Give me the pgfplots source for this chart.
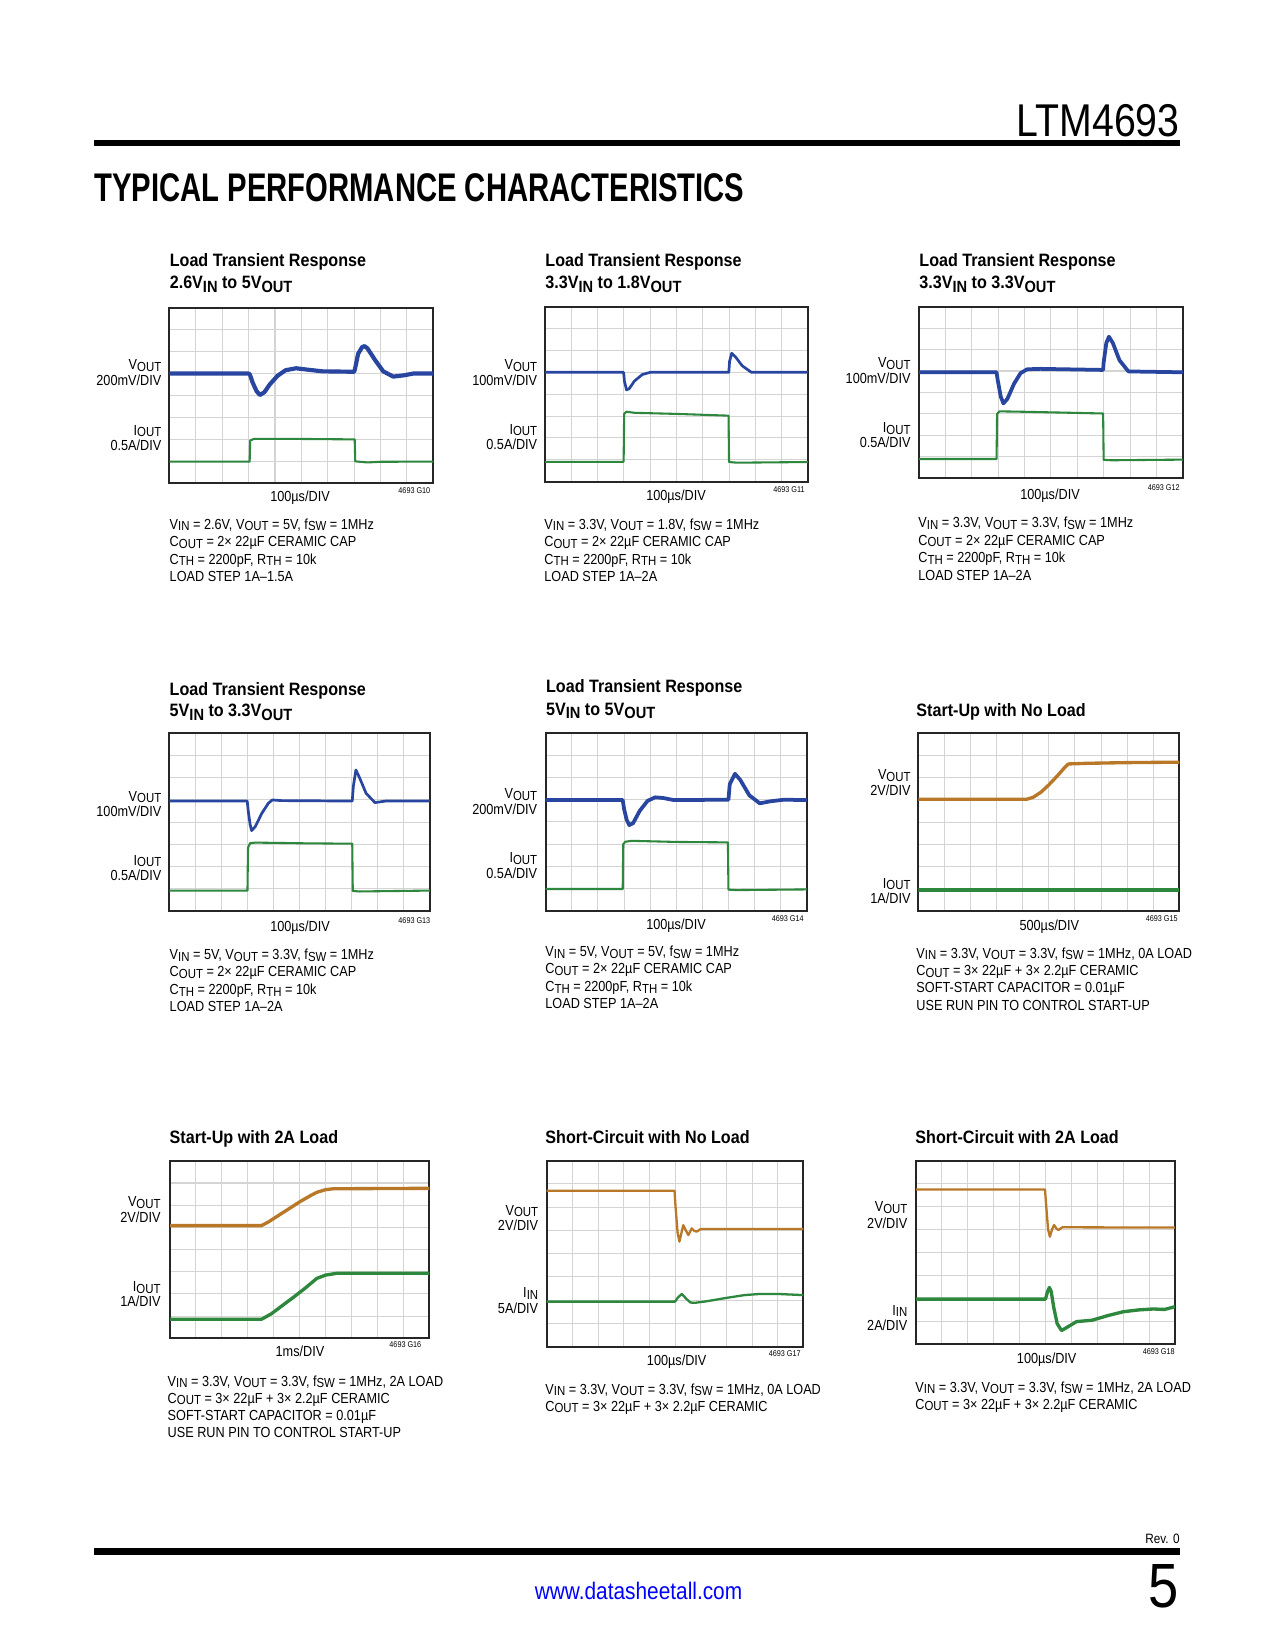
\documentclass[border=0pt]{standalone}
\usepackage{pgfplots}
\pgfplotsset{compat=1.18}
\usepackage{fontspec}
\setmainfont{Liberation Sans}[FakeStretch=0.87]
\newfontfamily\tfont{Liberation Sans}[FakeStretch=0.9]
\usepackage{graphicx}
\definecolor{vblue}{RGB}{40,70,160}
\definecolor{igreen}{RGB}{45,135,60}
\definecolor{vorange}{RGB}{185,120,40}
\newcommand\lf{\fontsize{7}{8}\selectfont}
\newcommand\sub[1]{\raisebox{-0.25ex}{\fontsize{6.3}{6}\selectfont #1}}
\newcommand\tsub[1]{\raisebox{-0.35ex}{\fontsize{7.8}{7}\selectfont #1}}
\newcommand\tf{\tfont\bfseries\fontsize{8.6}{9}\selectfont}
\newcommand\gf{\fontsize{4}{4}\selectfont}
\pgfplotsset{
 scope/.style={scale only axis, xmin=0, xmax=10, ymin=0, ymax=8,
  xtick={1,...,9}, ytick={1,...,7}, xticklabels={}, yticklabels={},
  major tick length=0pt, grid=major,
  major grid style={draw=black!17, line width=0.5pt},
  axis line style={draw=black!85, line width=0.9pt},
  anchor=south west, clip=true,
  every axis plot/.append style={line join=round}},
 vb/.style={vblue, line width=#1},
 ig/.style={igreen, line width=#1},
 vo/.style={vorange, line width=#1},
}
\begin{document}
\begin{tikzpicture}[x=0.48pt,y=-0.48pt]
\path[fill=white] (0,0) rectangle (1275,1650);
% header
\node[anchor=base east, inner sep=0] at (1180,137) {\resizebox{78.2pt}{15.4pt}{LTM4693}};
\fill (94,140) rectangle (1180,146.5);
\node[anchor=base west, inner sep=0] at (94,202) {\resizebox{312pt}{13.4pt}{\bfseries TYPICAL PERFORMANCE CHARACTERISTICS}};
% footer
\node[anchor=base east, inner sep=0] at (1180,1543) {\fontsize{6.5}{7}\selectfont Rev. 0};
\fill (94,1548) rectangle (1180,1555);
\node[anchor=base, inner sep=0, text=blue] at (638.5,1599) {\fontsize{11.5}{12}\selectfont www.datasheetall.com};
\node[anchor=base east, inner sep=0] at (1179,1607) {\fontsize{30}{30}\selectfont 5};

% ================= P1
\node[anchor=base west, inner sep=0] at (169.4,267) {\tf Load Transient Response};
\node[anchor=base west, inner sep=0] at (169.4,289) {\tf 2.6V\tsub{IN} to 5V\tsub{OUT}};
\begin{axis}[scope, at={(81.31pt,-231.98pt)}, width=126.7pt, height=84.3pt]
\addplot[vb=2.0pt] coordinates {(0,5.0) (3.0,5.0) (3.05,4.95) (3.15,4.6) (3.3,4.2) (3.43,4.02) (3.6,4.15) (3.8,4.5) (4.1,4.9) (4.4,5.15) (4.8,5.24) (5.2,5.18) (5.8,5.1) (7.0,5.08) (7.03,5.2) (7.15,5.9) (7.3,6.2) (7.39,6.25) (7.5,6.15) (7.8,5.6) (8.1,5.1) (8.48,4.86) (8.9,4.92) (9.24,5.0) (10,5.0)};
\addplot[ig=1.0pt] coordinates {(0,0.99) (3.04,0.99) (3.06,1.95) (3.2,2.02) (5,2.02) (7.02,2.0) (7.04,1.0) (7.5,0.95) (8,0.98) (10,0.99)};
\end{axis}
\node[anchor=base east, inner sep=0] at (161.7,370) {\lf V\sub{OUT}};
\node[anchor=base east, inner sep=0] at (161.7,385.7) {\lf 200mV/DIV};
\node[anchor=base east, inner sep=0] at (161.7,435) {\lf I\sub{OUT}};
\node[anchor=base east, inner sep=0] at (161.7,450) {\lf 0.5A/DIV};
\node[anchor=base, inner sep=0] at (300,501.7) {\lf 100µs/DIV};
\node[anchor=base east, inner sep=0] at (430.7,493.3) {\gf 4693 G10};
\node[anchor=base west, inner sep=0] at (169.3,529) {\lf V\sub{IN} = 2.6V, V\sub{OUT} = 5V, f\sub{SW} = 1MHz};
\node[anchor=base west, inner sep=0] at (169.3,546.5) {\lf C\sub{OUT} = 2× 22µF CERAMIC CAP};
\node[anchor=base west, inner sep=0] at (169.3,564) {\lf C\sub{TH} = 2200pF, R\sub{TH} = 10k};
\node[anchor=base west, inner sep=0] at (169.3,581.5) {\lf LOAD STEP 1A–1.5A};

% ================= P2
\node[anchor=base west, inner sep=0] at (545,267) {\tf Load Transient Response};
\node[anchor=base west, inner sep=0] at (545,289) {\tf 3.3V\tsub{IN} to 1.8V\tsub{OUT}};
\begin{axis}[scope, at={(261.6pt,-231.22pt)}, width=126.2pt, height=84.0pt]
\addplot[vb=1.3pt] coordinates {(0,5.0) (2.99,5.0) (3.02,4.6) (3.1,4.2) (3.2,4.25) (3.4,4.6) (3.7,4.9) (4.0,5.0) (6.99,5.0) (7.02,5.5) (7.1,5.87) (7.25,5.7) (7.5,5.3) (7.85,5.0) (10,5.0)};
\addplot[ig=1.0pt] coordinates {(0,0.91) (2.99,0.91) (3.01,3.1) (3.1,3.2) (3.4,3.15) (5,3.1) (6.98,3.02) (7.0,0.9) (7.3,0.87) (10,0.9)};
\end{axis}
\node[anchor=base east, inner sep=0] at (537.6,370) {\lf V\sub{OUT}};
\node[anchor=base east, inner sep=0] at (537.6,385.7) {\lf 100mV/DIV};
\node[anchor=base east, inner sep=0] at (537.6,434) {\lf I\sub{OUT}};
\node[anchor=base east, inner sep=0] at (537.6,449) {\lf 0.5A/DIV};
\node[anchor=base, inner sep=0] at (676,500.7) {\lf 100µs/DIV};
\node[anchor=base east, inner sep=0] at (805,492) {\gf 4693 G11};
\node[anchor=base west, inner sep=0] at (544,529) {\lf V\sub{IN} = 3.3V, V\sub{OUT} = 1.8V, f\sub{SW} = 1MHz};
\node[anchor=base west, inner sep=0] at (544,546.5) {\lf C\sub{OUT} = 2× 22µF CERAMIC CAP};
\node[anchor=base west, inner sep=0] at (544,564) {\lf C\sub{TH} = 2200pF, R\sub{TH} = 10k};
\node[anchor=base west, inner sep=0] at (544,581.5) {\lf LOAD STEP 1A–2A};

% ================= P3
\node[anchor=base west, inner sep=0] at (919,267) {\tf Load Transient Response};
\node[anchor=base west, inner sep=0] at (919,289) {\tf 3.3V\tsub{IN} to 3.3V\tsub{OUT}};
\begin{axis}[scope, at={(441.12pt,-229.58pt)}, width=126.6pt, height=82.4pt]
\addplot[vb=1.8pt] coordinates {(0,4.94) (2.94,4.94) (2.98,4.6) (3.1,3.8) (3.2,3.49) (3.35,3.7) (3.6,4.4) (3.85,4.9) (4.1,5.08) (4.6,5.1) (6.98,5.05) (7.0,5.4) (7.1,6.3) (7.2,6.6) (7.35,6.3) (7.6,5.5) (7.94,4.98) (10,4.94)};
\addplot[ig=1.0pt] coordinates {(0,0.9) (2.94,0.9) (2.96,3.0) (3.05,3.12) (4,3.1) (6.98,3.02) (7.0,0.86) (7.3,0.84) (10,0.87)};
\end{axis}
\node[anchor=base east, inner sep=0] at (911,368) {\lf V\sub{OUT}};
\node[anchor=base east, inner sep=0] at (911,383.7) {\lf 100mV/DIV};
\node[anchor=base east, inner sep=0] at (911,433) {\lf I\sub{OUT}};
\node[anchor=base east, inner sep=0] at (911,448) {\lf 0.5A/DIV};
\node[anchor=base, inner sep=0] at (1050,499.7) {\lf 100µs/DIV};
\node[anchor=base east, inner sep=0] at (1180,490) {\gf 4693 G12};
\node[anchor=base west, inner sep=0] at (918,527.5) {\lf V\sub{IN} = 3.3V, V\sub{OUT} = 3.3V, f\sub{SW} = 1MHz};
\node[anchor=base west, inner sep=0] at (918,545) {\lf C\sub{OUT} = 2× 22µF CERAMIC CAP};
\node[anchor=base west, inner sep=0] at (918,562.5) {\lf C\sub{TH} = 2200pF, R\sub{TH} = 10k};
\node[anchor=base west, inner sep=0] at (918,580) {\lf LOAD STEP 1A–2A};

% ================= P4
\node[anchor=base west, inner sep=0] at (169.3,695) {\tf Load Transient Response};
\node[anchor=base west, inner sep=0] at (169.3,716.7) {\tf 5V\tsub{IN} to 3.3V\tsub{OUT}};
\begin{axis}[scope, at={(81.26pt,-437.28pt)}, width=125.1pt, height=85.3pt]
\addplot[vb=1.3pt] coordinates {(0,4.95) (2.99,4.95) (3.03,4.5) (3.1,3.9) (3.16,3.62) (3.3,3.8) (3.55,4.4) (3.8,4.85) (3.95,5.0) (4.3,4.97) (7.02,4.95) (7.06,5.6) (7.16,6.35) (7.3,6.0) (7.55,5.3) (7.89,4.88) (8.3,4.95) (10,4.95)};
\addplot[ig=1.0pt] coordinates {(0,0.92) (3.0,0.92) (3.02,2.85) (3.1,3.05) (3.3,3.08) (5,3.05) (7.02,3.03) (7.04,0.9) (7.3,0.88) (10,0.92)};
\end{axis}
\node[anchor=base east, inner sep=0] at (161.7,801) {\lf V\sub{OUT}};
\node[anchor=base east, inner sep=0] at (161.7,816.5) {\lf 100mV/DIV};
\node[anchor=base east, inner sep=0] at (161.7,865) {\lf I\sub{OUT}};
\node[anchor=base east, inner sep=0] at (161.7,880.5) {\lf 0.5A/DIV};
\node[anchor=base, inner sep=0] at (300,931.7) {\lf 100µs/DIV};
\node[anchor=base east, inner sep=0] at (430.7,923.3) {\gf 4693 G13};
\node[anchor=base west, inner sep=0] at (169.3,959.3) {\lf V\sub{IN} = 5V, V\sub{OUT} = 3.3V, f\sub{SW} = 1MHz};
\node[anchor=base west, inner sep=0] at (169.3,976.7) {\lf C\sub{OUT} = 2× 22µF CERAMIC CAP};
\node[anchor=base west, inner sep=0] at (169.3,994.2) {\lf C\sub{TH} = 2200pF, R\sub{TH} = 10k};
\node[anchor=base west, inner sep=0] at (169.3,1011.7) {\lf LOAD STEP 1A–2A};

% ================= P5
\node[anchor=base west, inner sep=0] at (545.7,692.7) {\tf Load Transient Response};
\node[anchor=base west, inner sep=0] at (545.7,715) {\tf 5V\tsub{IN} to 5V\tsub{OUT}};
\begin{axis}[scope, at={(261.94pt,-437.14pt)}, width=125.3pt, height=85.2pt]
\addplot[vb=1.8pt] coordinates {(0,4.99) (2.95,4.99) (3.0,4.6) (3.1,4.1) (3.2,3.86) (3.35,3.95) (3.6,4.5) (3.9,4.95) (4.19,5.11) (4.5,5.08) (4.89,4.99) (7.0,5.0) (7.05,5.7) (7.25,6.17) (7.45,5.9) (7.8,5.2) (8.2,4.84) (8.6,4.93) (9.1,5.0) (10,4.99)};
\addplot[ig=1.0pt] coordinates {(0,0.98) (2.95,0.98) (2.97,3.0) (3.05,3.11) (3.3,3.15) (5,3.1) (6.98,3.08) (7.0,0.95) (7.3,0.93) (10,0.96)};
\end{axis}
\node[anchor=base east, inner sep=0] at (537.6,798.5) {\lf V\sub{OUT}};
\node[anchor=base east, inner sep=0] at (537.6,814) {\lf 200mV/DIV};
\node[anchor=base east, inner sep=0] at (537.6,862.5) {\lf I\sub{OUT}};
\node[anchor=base east, inner sep=0] at (537.6,878) {\lf 0.5A/DIV};
\node[anchor=base, inner sep=0] at (676,929.7) {\lf 100µs/DIV};
\node[anchor=base east, inner sep=0] at (804,921) {\gf 4693 G14};
\node[anchor=base west, inner sep=0] at (545,956.3) {\lf V\sub{IN} = 5V, V\sub{OUT} = 5V, f\sub{SW} = 1MHz};
\node[anchor=base west, inner sep=0] at (545,973.8) {\lf C\sub{OUT} = 2× 22µF CERAMIC CAP};
\node[anchor=base west, inner sep=0] at (545,991.3) {\lf C\sub{TH} = 2200pF, R\sub{TH} = 10k};
\node[anchor=base west, inner sep=0] at (545,1008.8) {\lf LOAD STEP 1A–2A};

% ================= P6
\node[anchor=base west, inner sep=0] at (916,716.7) {\tf Start-Up with No Load};
\begin{axis}[scope, at={(440.78pt,-437.28pt)}, width=125.3pt, height=85.3pt]
\addplot[vo=1.6pt] coordinates {(0,5.03) (4.15,5.03) (4.4,5.12) (4.7,5.35) (5.0,5.68) (5.3,6.05) (5.6,6.45) (5.75,6.62) (6.5,6.65) (8,6.68) (10,6.7)};
\addplot[ig=1.6pt] coordinates {(0,0.95) (10,0.95)};
\end{axis}
\node[anchor=base east, inner sep=0] at (911,779.5) {\lf V\sub{OUT}};
\node[anchor=base east, inner sep=0] at (911,795) {\lf 2V/DIV};
\node[anchor=base east, inner sep=0] at (911,888) {\lf I\sub{OUT}};
\node[anchor=base east, inner sep=0] at (911,903.5) {\lf 1A/DIV};
\node[anchor=base, inner sep=0] at (1049.3,930) {\lf 500µs/DIV};
\node[anchor=base east, inner sep=0] at (1178,921.7) {\gf 4693 G15};
\node[anchor=base west, inner sep=0] at (916,958) {\lf V\sub{IN} = 3.3V, V\sub{OUT} = 3.3V, f\sub{SW} = 1MHz, 0A LOAD};
\node[anchor=base west, inner sep=0] at (916,975.3) {\lf C\sub{OUT} = 3× 22µF + 3× 2.2µF CERAMIC};
\node[anchor=base west, inner sep=0] at (916,992.6) {\lf SOFT-START CAPACITOR = 0.01µF};
\node[anchor=base west, inner sep=0] at (916,1010) {\lf USE RUN PIN TO CONTROL START-UP};

% ================= P7
\node[anchor=base west, inner sep=0] at (169.3,1143.3) {\tf Start-Up with 2A Load};
\begin{axis}[scope, at={(81.6pt,-642.38pt)}, width=124.5pt, height=85.2pt]
\addplot[vo=1.6pt] coordinates {(0,5.08) (3.53,5.08) (3.8,5.25) (4.2,5.55) (4.6,5.85) (5.0,6.15) (5.4,6.42) (5.66,6.58) (6.0,6.7) (6.3,6.74) (10,6.76)};
\addplot[ig=1.6pt] coordinates {(0,0.86) (3.53,0.86) (3.9,1.1) (4.3,1.45) (4.76,1.85) (5.2,2.25) (5.66,2.7) (6.0,2.85) (6.43,2.93) (10,2.93)};
\end{axis}
\node[anchor=base east, inner sep=0] at (161,1206.7) {\lf V\sub{OUT}};
\node[anchor=base east, inner sep=0] at (161,1222.7) {\lf 2V/DIV};
\node[anchor=base east, inner sep=0] at (161,1291.7) {\lf I\sub{OUT}};
\node[anchor=base east, inner sep=0] at (161,1306.7) {\lf 1A/DIV};
\node[anchor=base, inner sep=0] at (300,1356.7) {\lf 1ms/DIV};
\node[anchor=base east, inner sep=0] at (421.7,1347.3) {\gf 4693 G16};
\node[anchor=base west, inner sep=0] at (167.3,1386) {\lf V\sub{IN} = 3.3V, V\sub{OUT} = 3.3V, f\sub{SW} = 1MHz, 2A LOAD};
\node[anchor=base west, inner sep=0] at (167.3,1403) {\lf C\sub{OUT} = 3× 22µF + 3× 2.2µF CERAMIC};
\node[anchor=base west, inner sep=0] at (167.3,1420) {\lf SOFT-START CAPACITOR = 0.01µF};
\node[anchor=base west, inner sep=0] at (167.3,1437) {\lf USE RUN PIN TO CONTROL START-UP};

% ================= P8
\node[anchor=base west, inner sep=0] at (545,1143.3) {\tf Short-Circuit with No Load};
\begin{axis}[scope, at={(262.42pt,-646.42pt)}, width=123.2pt, height=89.3pt]
\addplot[vo=1.1pt] coordinates {(0,6.71) (4.98,6.71) (5.02,6.0) (5.1,4.9) (5.17,4.52) (5.25,4.9) (5.32,5.23) (5.42,5.0) (5.52,4.8) (5.6,4.98) (5.65,5.09) (5.75,4.98) (5.84,4.95) (6.0,5.06) (10,5.06)};
\addplot[ig=1.1pt] coordinates {(0,1.94) (5.0,1.94) (5.1,2.1) (5.26,2.27) (5.45,2.05) (5.6,1.9) (5.78,1.89) (6.2,1.95) (7.0,2.1) (7.7,2.22) (8.3,2.27) (9.0,2.27) (10,2.22)};
\end{axis}
\node[anchor=base east, inner sep=0] at (538.6,1215) {\lf V\sub{OUT}};
\node[anchor=base east, inner sep=0] at (538.6,1230.5) {\lf 2V/DIV};
\node[anchor=base east, inner sep=0] at (538.6,1297.5) {\lf I\sub{IN}};
\node[anchor=base east, inner sep=0] at (538.6,1313) {\lf 5A/DIV};
\node[anchor=base, inner sep=0] at (676.7,1365) {\lf 100µs/DIV};
\node[anchor=base east, inner sep=0] at (801,1356) {\gf 4693 G17};
\node[anchor=base west, inner sep=0] at (545,1394) {\lf V\sub{IN} = 3.3V, V\sub{OUT} = 3.3V, f\sub{SW} = 1MHz, 0A LOAD};
\node[anchor=base west, inner sep=0] at (545,1411) {\lf C\sub{OUT} = 3× 22µF + 3× 2.2µF CERAMIC};

% ================= P9
\node[anchor=base west, inner sep=0] at (915,1143.3) {\tf Short-Circuit with 2A Load};
\begin{axis}[scope, at={(439.68pt,-645.26pt)}, width=124.3pt, height=88.1pt]
\addplot[vo=1.1pt] coordinates {(0,6.75) (4.98,6.75) (5.03,6.0) (5.1,5.0) (5.17,4.69) (5.25,5.0) (5.33,5.2) (5.42,5.05) (5.5,4.98) (5.65,5.1) (10,5.09)};
\addplot[ig=1.6pt] coordinates {(0,1.97) (5.0,1.97) (5.08,2.3) (5.15,2.48) (5.22,2.3) (5.32,1.6) (5.45,0.9) (5.62,0.6) (5.8,0.72) (6.2,0.99) (6.8,1.05) (7.4,1.25) (8.0,1.42) (8.6,1.5) (9.16,1.54) (9.6,1.52) (10,1.64)};
\end{axis}
\node[anchor=base east, inner sep=0] at (907.8,1211.7) {\lf V\sub{OUT}};
\node[anchor=base east, inner sep=0] at (907.8,1228.3) {\lf 2V/DIV};
\node[anchor=base east, inner sep=0] at (907.8,1315) {\lf I\sub{IN}};
\node[anchor=base east, inner sep=0] at (907.8,1330) {\lf 2A/DIV};
\node[anchor=base, inner sep=0] at (1046.7,1363.3) {\lf 100µs/DIV};
\node[anchor=base east, inner sep=0] at (1175,1354.3) {\gf 4693 G18};
\node[anchor=base west, inner sep=0] at (915,1392) {\lf V\sub{IN} = 3.3V, V\sub{OUT} = 3.3V, f\sub{SW} = 1MHz, 2A LOAD};
\node[anchor=base west, inner sep=0] at (915,1409) {\lf C\sub{OUT} = 3× 22µF + 3× 2.2µF CERAMIC};
\end{tikzpicture}
\end{document}
